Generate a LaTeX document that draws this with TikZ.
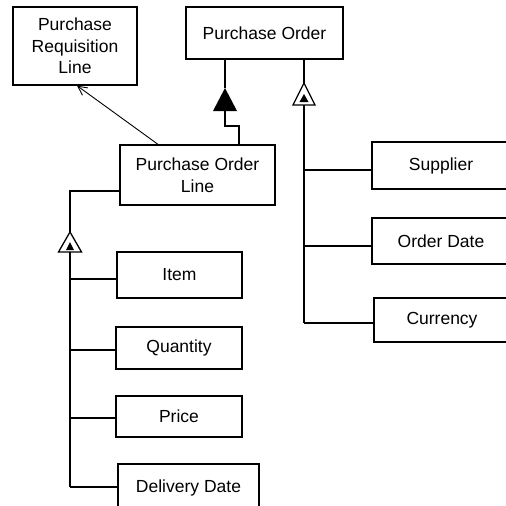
\documentclass[tikz,border=0pt]{standalone}
\usepackage{fontspec}
\setmainfont{Liberation Sans}
\usetikzlibrary{arrows.meta}
\begin{document}
\begin{tikzpicture}[x=1pt,y=-1pt,
  box/.style={draw, line width=1.3pt, inner sep=0pt, align=center,
    font=\fontsize{17.5}{21.5}\selectfont},
  conn/.style={line width=1.3pt},
  tri/.style={line width=1.3pt, line join=miter}]
\clip (0,0) rectangle (506,506);
\fill[white] (0,0) rectangle (506,506);

% boxes
\node[box, minimum width=124pt, minimum height=78pt] (prl) at (75,46) {Purchase\\Requisition\\Line};
\node[box, minimum width=157pt, minimum height=52pt] (po) at (264.5,33) {Purchase Order};
\node[box, minimum width=155pt, minimum height=60pt] (pol) at (197.5,175) {Purchase Order\\Line};
\node[box, minimum width=138pt, minimum height=47pt] (sup) at (441,165.5) {\raisebox{-3pt}{Supplier}};
\node[box, minimum width=138pt, minimum height=46pt] (od) at (441,241) {\raisebox{-3pt}{Order Date}};
\node[box, minimum width=136pt, minimum height=44pt] (cur) at (442,320) {\raisebox{-2pt}{Currency}};
\node[box, minimum width=125pt, minimum height=46pt] (item) at (179.5,275) {\raisebox{-2pt}{Item}};
\node[box, minimum width=126pt, minimum height=42pt] (qty) at (179,348) {Quantity};
\node[box, minimum width=126pt, minimum height=41pt] (price) at (179,416.5) {Price};
\node[box, minimum width=141pt, minimum height=48pt] (dd) at (188.5,488) {Delivery Date};

% aggregation PO - POL (filled triangle)
\coordinate (aTop) at (225,88);
\coordinate (aBase) at (225,111);
\draw[conn] (aTop |- po.south) -- (aTop);
\fill[black] (aTop) -- (237,111) -- (213,111) -- cycle;
\draw[conn] (aBase) -- (225,126) -- (239,126) -- (239,145 |- pol.north);

% PO attributes (open triangle with small fill)
\coordinate (bTop) at (304,83);
\coordinate (bBase) at (304,105);
\draw[conn] (bTop |- po.south) -- (bTop);
\draw[tri, fill=white] (bTop) -- (315,105) -- (293,105) -- cycle;
\fill[black] (304,94) -- (308.5,102) -- (299.5,102) -- cycle;
\coordinate (b1) at (304,170);
\coordinate (b2) at (304,246);
\coordinate (b3) at (304,323);
\draw[conn] (bBase) -- (b3);
\draw[conn] (b1) -- (b1 -| sup.west);
\draw[conn] (b2) -- (b2 -| od.west);
\draw[conn] (b3) -- (b3 -| cur.west);

% POL attributes
\coordinate (cTop) at (70,232);
\coordinate (cBase) at (70,252);
\coordinate (cStart) at (120,191);
\draw[conn] (cStart -| pol.west) -- (70,191) -- (cTop);
\draw[tri, fill=white] (cTop) -- (81.5,252) -- (58.5,252) -- cycle;
\fill[black] (70,242) -- (74,250) -- (66,250) -- cycle;
\coordinate (c1) at (70,279);
\coordinate (c2) at (70,350);
\coordinate (c3) at (70,418);
\coordinate (c4) at (70,487);
\draw[conn] (cBase) -- (c4);
\draw[conn] (c1) -- (c1 -| item.west);
\draw[conn] (c2) -- (c2 -| qty.west);
\draw[conn] (c3) -- (c3 -| price.west);
\draw[conn] (c4) -- (c4 -| dd.west);

% dependency POL -> PRL
\coordinate (dFrom) at (158,145);
\coordinate (dTo) at (77,85);
\draw[line width=0.9pt, -{Straight Barb[length=9pt,width=9pt]}] (dFrom |- pol.north) -- (dTo |- prl.south);
\end{tikzpicture}
\end{document}
